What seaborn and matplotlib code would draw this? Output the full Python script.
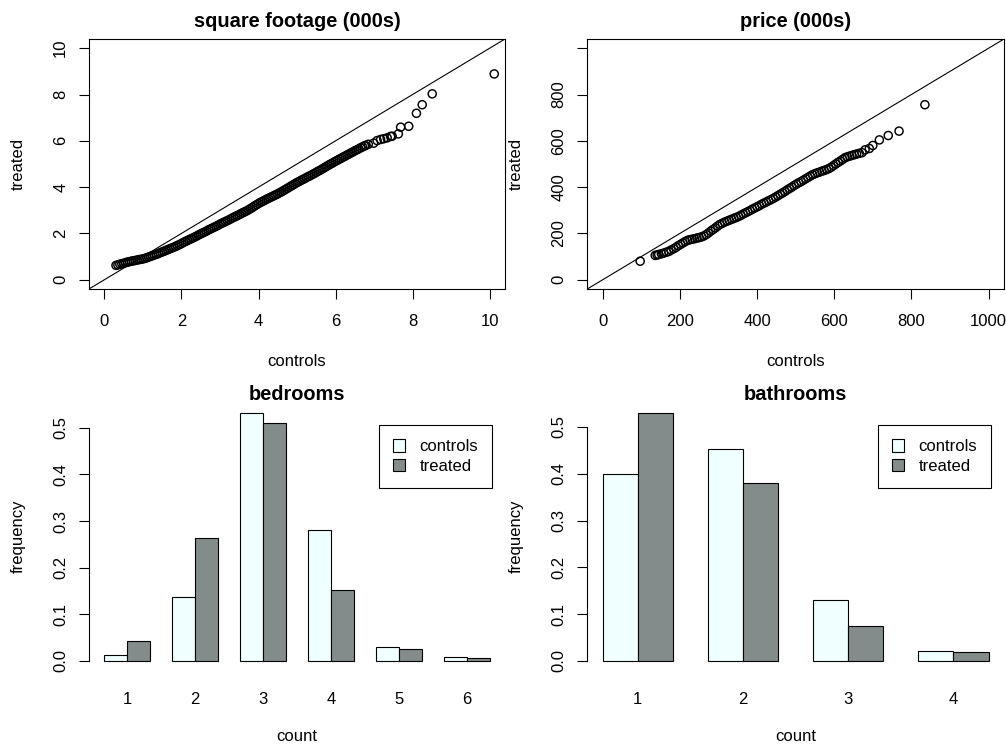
import matplotlib
matplotlib.use("Agg")
import matplotlib.pyplot as plt
import pandas as pd
import seaborn as sns
from matplotlib.patches import Patch

# --- qq plots: controls quantile (x) vs treated quantile (y) ---
sqft_controls = [
    0.30, 0.35, 0.40, 0.45, 0.50, 0.55, 0.60, 0.65, 0.70, 0.75, 0.80, 0.85, 0.90, 0.95,
    1.00, 1.05, 1.10, 1.15, 1.20, 1.25, 1.30, 1.35, 1.40, 1.45, 1.50, 1.55, 1.60, 1.65,
    1.70, 1.75, 1.80, 1.85, 1.90, 1.95, 2.00, 2.05, 2.10, 2.15, 2.20, 2.25, 2.30, 2.35,
    2.40, 2.45, 2.50, 2.55, 2.60, 2.65, 2.70, 2.75, 2.80, 2.85, 2.90, 2.95, 3.00, 3.05,
    3.10, 3.15, 3.20, 3.25, 3.30, 3.35, 3.40, 3.45, 3.50, 3.55, 3.60, 3.65, 3.70, 3.75,
    3.80, 3.85, 3.90, 3.95, 4.00, 4.05, 4.10, 4.15, 4.20, 4.25, 4.30, 4.35, 4.40, 4.45,
    4.50, 4.55, 4.60, 4.65, 4.70, 4.75, 4.80, 4.85, 4.90, 4.95, 5.00, 5.05, 5.10, 5.15,
    5.20, 5.25, 5.30, 5.35, 5.40, 5.45, 5.50, 5.55, 5.60, 5.65, 5.70, 5.75, 5.80, 5.85,
    5.90, 5.95, 6.00, 6.05, 6.10, 6.15, 6.20, 6.25, 6.30, 6.35, 6.40, 6.45, 6.50, 6.55,
    6.60, 6.65, 6.70, 6.75,
    6.78, 6.85, 6.99, 7.08, 7.17, 7.25, 7.34, 7.43, 7.47, 7.63, 7.69, 7.90, 8.10, 8.25,
    8.51, 10.12,
]
sqft_treated = [
    0.62, 0.64, 0.67, 0.69, 0.71, 0.74, 0.76, 0.78, 0.80, 0.82, 0.83, 0.85, 0.87, 0.88,
    0.90, 0.92, 0.95, 0.98, 1.01, 1.04, 1.07, 1.10, 1.13, 1.17, 1.20, 1.23, 1.27, 1.30,
    1.34, 1.37, 1.40, 1.44, 1.48, 1.52, 1.56, 1.61, 1.65, 1.69, 1.73, 1.77, 1.81, 1.85,
    1.89, 1.94, 1.98, 2.02, 2.06, 2.10, 2.15, 2.19, 2.23, 2.27, 2.31, 2.35, 2.40, 2.44,
    2.48, 2.52, 2.56, 2.60, 2.65, 2.69, 2.73, 2.77, 2.81, 2.86, 2.90, 2.94, 2.98, 3.03,
    3.08, 3.13, 3.19, 3.24, 3.29, 3.34, 3.38, 3.42, 3.47, 3.51, 3.55, 3.59, 3.63, 3.67,
    3.71, 3.76, 3.80, 3.85, 3.90, 3.95, 4.00, 4.05, 4.10, 4.15, 4.20, 4.24, 4.29, 4.33,
    4.37, 4.42, 4.46, 4.50, 4.55, 4.59, 4.64, 4.69, 4.73, 4.78, 4.83, 4.88, 4.93, 4.98,
    5.02, 5.07, 5.12, 5.16, 5.21, 5.25, 5.30, 5.34, 5.39, 5.43, 5.48, 5.52, 5.57, 5.61,
    5.65, 5.70, 5.74, 5.78,
    5.80, 5.85, 5.90, 6.01, 6.06, 6.09, 6.13, 6.19, 6.20, 6.30, 6.59, 6.63, 7.19, 7.56,
    8.03, 8.89,
]

price_controls = [
    97, 136, 141, 145, 152, 158, 165, 171, 177,
    184, 190, 196, 202, 208, 214, 220, 226, 232, 238, 244, 250, 256, 262, 268, 274,
    280, 286, 292, 298, 304, 310, 316, 322, 328, 334, 340, 346, 352, 358, 364, 370,
    376, 382, 388, 394, 400, 406, 412, 418, 424, 430, 436, 442, 448, 454, 460, 466,
    472, 478, 484, 490, 496, 502, 508, 514, 520, 526, 532, 538, 544, 550, 556, 562,
    568, 574, 580, 586, 592, 598, 604, 610, 616, 622, 628, 634, 640, 646, 652, 658,
    665, 672, 680, 691, 700, 717, 740, 768, 835,
]
price_treated = [
    80, 105, 107, 109, 112, 115, 119, 122, 128,
    134, 140, 147, 153, 159, 165, 170, 173, 175, 177, 180, 182, 185, 189, 195, 202,
    210, 217, 224, 232, 239, 244, 249, 253, 257, 261, 265, 269, 273, 278, 284, 289,
    294, 299, 305, 310, 315, 320, 326, 331, 336, 341, 346, 351, 357, 363, 369, 375,
    381, 388, 394, 400, 407, 413, 419, 424, 430, 436, 442, 448, 454, 458, 462, 465,
    469, 472, 476, 480, 486, 493, 500, 507, 513, 520, 527, 531, 534, 537, 540, 543,
    546, 549, 561, 567, 580, 604, 623, 642, 756,
]

# --- bar charts: relative frequencies ---
bed_counts = ["1", "2", "3", "4", "5", "6"]
bed_controls = [0.013, 0.137, 0.531, 0.280, 0.031, 0.008]
bed_treated = [0.042, 0.264, 0.510, 0.152, 0.026, 0.006]

bath_counts = ["1", "2", "3", "4"]
bath_controls = [0.399, 0.452, 0.131, 0.021]
bath_treated = [0.529, 0.380, 0.074, 0.019]

groups = ["controls", "treated"]
CTRL_COL = "#F0FFFF"   # azure
TREAT_COL = "#838B8B"  # azure4

sns.set_style("ticks")
plt.rcParams["font.family"] = ["Liberation Sans", "DejaVu Sans"]
plt.rcParams["axes.linewidth"] = 0.8
plt.rcParams["xtick.major.width"] = 0.8
plt.rcParams["ytick.major.width"] = 0.8
plt.rcParams["xtick.color"] = "black"
plt.rcParams["ytick.color"] = "black"
plt.rcParams["axes.edgecolor"] = "black"
plt.rcParams["text.color"] = "black"
plt.rcParams["axes.labelcolor"] = "black"
plt.rcParams["axes.titlecolor"] = "black"

FS = 12


def style_labels(ax, xlabel, ylabel, xl_y, yl_x):
    ax.set_xlabel(xlabel, fontsize=FS)
    ax.set_ylabel(ylabel, fontsize=FS)
    ax.xaxis.set_label_coords(0.5, xl_y)
    ax.yaxis.set_label_coords(yl_x, 0.5)
    ax.xaxis.label.set_va("center")
    ax.yaxis.label.set_va("center")
    ax.yaxis.label.set_ha("center")


def qq_panel(ax, xs, ys, lim, ticks, yticklabels, title):
    ax.axline((0, 0), slope=1, color="black", lw=0.8)
    sns.scatterplot(x=xs, y=ys, ax=ax, marker="o", s=34, facecolor="none",
                    edgecolor="black", linewidth=1.05, zorder=3)
    ax.set_xlim(lim)
    ax.set_ylim(lim)
    ax.set_xticks(ticks)
    ax.set_xticklabels([str(t) for t in ticks])
    ax.set_yticks(ticks)
    ax.set_yticklabels(yticklabels)
    ax.tick_params(axis="both", direction="out", length=7, labelsize=FS, pad=11)
    ax.tick_params(axis="y", labelrotation=90, pad=8)
    for lbl in ax.get_yticklabels():
        lbl.set_va("center")
    ax.set_title(title, fontsize=14.4, fontweight="bold", pad=8.6)
    style_labels(ax, "controls", "treated", -0.292, -0.171)


def bar_panel(ax, counts, ctrl, treat, title, xlim, ylim):
    df = pd.DataFrame({
        "count": counts + counts,
        "group": [groups[0]] * len(counts) + [groups[1]] * len(counts),
        "frequency": ctrl + treat,
    })
    sns.barplot(data=df, x="count", y="frequency", hue="group", order=counts,
                hue_order=groups, palette={"controls": CTRL_COL, "treated": TREAT_COL},
                width=2 / 3, gap=0, saturation=1, edgecolor="black", linewidth=0.8,
                errorbar=None, legend=False, ax=ax)
    for p in ax.patches:
        p.set_clip_on(False)
    ax.set_xlim(xlim)
    ax.set_ylim(ylim)
    ax.set_yticks([0.0, 0.1, 0.2, 0.3, 0.4, 0.5])
    ax.set_yticklabels(["0.0", "0.1", "0.2", "0.3", "0.4", "0.5"])
    for s in ["top", "right", "bottom"]:
        ax.spines[s].set_visible(False)
    ax.spines["left"].set_bounds(0, 0.5)
    ax.tick_params(axis="y", direction="out", length=7, labelsize=FS, pad=8,
                   labelrotation=90)
    for lbl in ax.get_yticklabels():
        lbl.set_va("center")
    ax.tick_params(axis="x", length=0, labelsize=FS, pad=22)
    ax.set_title(title, fontsize=14.4, fontweight="bold", pad=7.6)
    style_labels(ax, "count", "frequency", -0.303, -0.171)
    handles = [Patch(facecolor=CTRL_COL, edgecolor="black", linewidth=0.8),
               Patch(facecolor=TREAT_COL, edgecolor="black", linewidth=0.8)]
    leg = ax.legend(handles, groups, loc="upper right", bbox_to_anchor=(0.9695, 0.943),
                    borderaxespad=0, fontsize=FS, frameon=True, fancybox=False,
                    edgecolor="black", framealpha=1, borderpad=0.85, labelspacing=0.25,
                    handlelength=0.75, handleheight=0.75, handletextpad=0.85)
    leg.get_frame().set_linewidth(0.8)


fig = plt.figure(figsize=(10.06, 7.44), dpi=100)
ax_sq = fig.add_axes([0.0885, 0.6116, 0.4135, 0.3360])
ax_pr = fig.add_axes([0.5838, 0.6116, 0.4142, 0.3360])
ax_bed = fig.add_axes([0.0885, 0.1116, 0.4135, 0.3360])
ax_bath = fig.add_axes([0.5838, 0.1116, 0.4142, 0.3360])

qq_panel(ax_sq, sqft_controls, sqft_treated, (-0.4, 10.4), [0, 2, 4, 6, 8, 10],
         ["0", "2", "4", "6", "8", "10"], "square footage (000s)")
qq_panel(ax_pr, price_controls, price_treated, (-40, 1040), [0, 200, 400, 600, 800, 1000],
         ["0", "200", "400", "600", "800", ""], "price (000s)")

bar_panel(ax_bed, bed_counts, bed_controls, bed_treated, "bedrooms", (-0.56, 5.56), (0, 0.536))
bar_panel(ax_bath, bath_counts, bath_controls, bath_treated, "bathrooms", (-0.48, 3.48), (0, 0.534))

fig.savefig("out.png", dpi=100)
